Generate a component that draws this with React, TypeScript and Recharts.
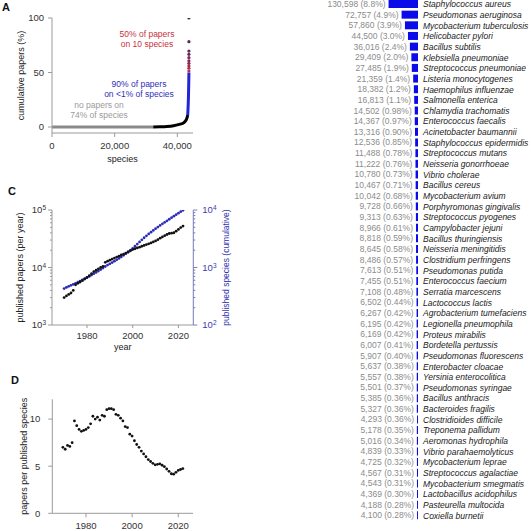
import React from 'react';
import { ComposedChart, LineChart, BarChart, Line, Bar, XAxis, YAxis, LabelList } from 'recharts';

// ---- A: cumulative share of papers, species sorted by paper count ----
const flatX = [0, 32300];
const flatY = [0, 0];
const riseX = [32300, 34500, 36600, 38800, 40900, 42000, 42450, 42900, 43200, 43320];
const riseY = [0, 0.2, 0.5, 1.2, 2.6, 3.8, 5, 7, 9.5, 11];
const steepX = [43320, 43460, 43570, 43640, 43680, 43690];
const steepY = [11, 20, 30, 40, 47, 50];
const top10X = [43691, 43692, 43693, 43694, 43695, 43696, 43697, 43698, 43699, 43700];
const top10Y = [51.4, 53.9, 56, 58.4, 60.8, 63.6, 66.7, 69.7, 78.3, 100];
const speciesTicks = [0, 20000, 40000];
const shareTicks = [0, 50, 100];

// ---- B: most studied species ----
const speciesNames = [
  'Staphylococcus aureus', 'Pseudomonas aeruginosa', 'Mycobacterium tuberculosis', 'Helicobacter pylori',
  'Bacillus subtilis', 'Klebsiella pneumoniae', 'Streptococcus pneumoniae', 'Listeria monocytogenes',
  'Haemophilus influenzae', 'Salmonella enterica', 'Chlamydia trachomatis', 'Enterococcus faecalis',
  'Acinetobacter baumannii', 'Staphylococcus epidermidis', 'Streptococcus mutans', 'Neisseria gonorrhoeae',
  'Vibrio cholerae', 'Bacillus cereus', 'Mycobacterium avium', 'Porphyromonas gingivalis',
  'Streptococcus pyogenes', 'Campylobacter jejuni', 'Bacillus thuringiensis', 'Neisseria meningitidis',
  'Clostridium perfringens', 'Pseudomonas putida', 'Enterococcus faecium', 'Serratia marcescens',
  'Lactococcus lactis', 'Agrobacterium tumefaciens', 'Legionella pneumophila', 'Proteus mirabilis',
  'Bordetella pertussis', 'Pseudomonas fluorescens', 'Enterobacter cloacae', 'Yersinia enterocolitica',
  'Pseudomonas syringae', 'Bacillus anthracis', 'Bacteroides fragilis', 'Clostridioides difficile',
  'Treponema pallidum', 'Aeromonas hydrophila', 'Vibrio parahaemolyticus', 'Mycobacterium leprae',
  'Streptococcus agalactiae', 'Mycobacterium smegmatis', 'Lactobacillus acidophilus', 'Pasteurella multocida',
  'Coxiella burnetii',
];
const paperCounts = [
  130598, 72757, 57860, 44500, 36016, 29409, 27485, 21359, 18382, 16813, 14502, 14367, 13316, 12536, 11488,
  11222, 10780, 10467, 10042, 9728, 9313, 8966, 8818, 8645, 8486, 7613, 7455, 7108, 6502, 6267, 6195, 6169,
  6007, 5907, 5637, 5557, 5501, 5385, 5327, 4293, 5178, 5016, 4839, 4725, 4567, 4543, 4369, 4188, 4100,
];
const paperShares = [
  '8.8%', '4.9%', '3.9%', '3.0%', '2.4%', '2.0%', '1.9%', '1.4%', '1.2%', '1.1%', '0.98%', '0.97%', '0.90%',
  '0.85%', '0.78%', '0.76%', '0.73%', '0.71%', '0.68%', '0.66%', '0.63%', '0.61%', '0.59%', '0.58%', '0.57%',
  '0.51%', '0.51%', '0.48%', '0.44%', '0.42%', '0.42%', '0.42%', '0.41%', '0.40%', '0.38%', '0.38%', '0.37%',
  '0.36%', '0.36%', '0.36%', '0.35%', '0.34%', '0.33%', '0.32%', '0.31%', '0.31%', '0.30%', '0.28%', '0.28%',
];

// ---- C / D: by year ----
const years = [
  1970, 1971, 1972, 1973, 1974, 1975, 1976, 1977, 1978, 1979, 1980, 1981, 1982, 1983, 1984, 1985, 1986, 1987,
  1988, 1989, 1990, 1991, 1992, 1993, 1994, 1995, 1996, 1997, 1998, 1999, 2000, 2001, 2002, 2003, 2004, 2005,
  2006, 2007, 2008, 2009, 2010, 2011, 2012, 2013, 2014, 2015, 2016, 2017, 2018, 2019, 2020, 2021, 2022,
];
const papersPerYear = [
  3000, 3200, 3400, 3600, 4000, 5000, 5300, 5600, 5900, 6300, 6700, 7200, 7800, 8500, 9000, 9500, 10000, 10500,
  12300, 12900, 13400, 14000, 14600, 15200, 15800, 16500, 17100, 17800, 18600, 19500, 20500, 21200, 21900, 22600,
  23400, 24200, 25000, 25800, 26800, 27800, 29000, 30500, 32300, 34000, 35800, 37500, 39000, 39600, 40200, 42800,
  46000, 49500, 52500,
];
const speciesCumulative = [
  430, 450, 470, 490, 510, 530, 555, 580, 610, 640, 670, 700, 740, 780, 820, 870, 920, 980, 1040, 1100, 1160,
  1220, 1290, 1360, 1440, 1530, 1630, 1740, 1860, 2000, 2150, 2340, 2550, 2780, 3030, 3290, 3560, 3840, 4120,
  4420, 4730, 5050, 5390, 5740, 6110, 6480, 6900, 7350, 7820, 8300, 8800, 9350, 9900,
];
const papersPerSpecies = [
  7.0, 6.8, 7.2, 7.1, 7.5, 9.8, 9.3, 8.9, 8.7, 8.8, 8.9, 9.1, 9.5, 10.3, 10.0, 10.2, 9.9, 10.4, 10.3, 11.0, 11.1,
  11.1, 11.0, 10.5, 10.4, 10.1, 9.8, 9.2, 9.1, 8.4, 8.2, 7.7, 7.3, 7.0, 6.6, 6.3, 6.0, 5.7, 5.5, 5.3, 5.15, 5.2,
  5.25, 5.1, 4.95, 4.7, 4.45, 4.2, 4.15, 4.35, 4.55, 4.65, 4.75,
];
const yearTicks = [1980, 2000, 2020];
const papersLogTicks = [
  1000, 2000, 3000, 4000, 5000, 6000, 7000, 8000, 9000, 10000, 20000, 30000, 40000, 50000, 60000, 70000, 80000,
  90000, 100000,
];
const speciesLogTicks = [100, 200, 300, 400, 500, 600, 700, 800, 900, 1000, 2000, 3000, 4000, 5000, 6000, 7000, 8000, 9000, 10000];
const ratioTicks = [0, 5, 10];

const FONT = '"Liberation Sans", Arial, Helvetica, sans-serif';
const AXIS = '#9a9a9a';
const TICK_TEXT = { fontSize: 9.5, fill: '#333' };
const BLUE = '#2b2bb8';
const topDotColors = ['#b8304a', '#ab2e4e', '#9e2c52', '#912a55', '#842858', '#77285a', '#6a285b', '#5e285a', '#532a56', '#4a2a4e'];

const pairs = (xs: number[], ys: number[]) => xs.map((x, i) => ({ x, y: ys[i] }));

const barRows = speciesNames.map((name, i) => ({
  name,
  count: paperCounts[i],
  label: `${paperCounts[i].toLocaleString('en-US')} (${paperShares[i]})`,
}));

const yearRows = years.map((year, i) => ({
  year,
  papers: papersPerYear[i],
  species: speciesCumulative[i],
  ratio: papersPerSpecies[i],
}));

const renderTopDot = (p: any) => (
  <circle key={`top-${p.index}`} cx={p.cx} cy={p.cy} r={1.6} fill={topDotColors[p.index]} />
);

const ValueLabel = (props: any) => {
  const vb = props.viewBox || {};
  const x = Number(props.x ?? vb.x);
  const w = Number(props.width ?? vb.width);
  const y = Number(props.y ?? vb.y);
  const h = Number(props.height ?? vb.height);
  const left = Math.min(x, x + w);
  return (
    <text x={left - 3} y={y + h / 2} dy="0.35em" textAnchor="end" fontSize={8.5} fill="#8c8c8c">
      {props.value}
    </text>
  );
};

const SpeciesTick = ({ x, y, payload }: any) => (
  <text x={x} y={y} dy="0.35em" fontSize={8.5} fontStyle="italic" fill="#1a1a1a">
    {payload.value}
  </text>
);

const decadeTick = (side: 'left' | 'right', color: string, lineColor: string) => (props: any) => {
  const { x, y, payload } = props;
  const exp = Math.log10(payload.value);
  const major = Math.abs(exp - Math.round(exp)) < 1e-6;
  const dir = side === 'left' ? -1 : 1;
  const len = major ? 4 : 2;
  return (
    <g>
      <line x1={x} x2={x + dir * len} y1={y} y2={y} stroke={lineColor} />
      {major ? (
        <text
          x={x + (side === 'left' ? -6 : 9)}
          y={y}
          dy="0.35em"
          textAnchor={side === 'left' ? 'end' : 'start'}
          fontSize={9.5}
          fill={color}
        >
          10<tspan dy="-0.5em" fontSize={6.5}>{Math.round(exp)}</tspan>
        </text>
      ) : null}
    </g>
  );
};

const panelLetter = (text: string, left: number, top: number) => (
  <div style={{ position: 'absolute', left, top, fontSize: 11, lineHeight: '11px', fontWeight: 'bold', color: '#111' }}>
    {text}
  </div>
);

const note = (lines: string[], cx: number, top: number, color: string) => (
  <div
    style={{
      position: 'absolute', left: cx - 60, top, width: 120, textAlign: 'center',
      fontSize: 8.5, lineHeight: '10px', color, whiteSpace: 'nowrap',
    }}
  >
    {lines.map((l) => (
      <div key={l}>{l}</div>
    ))}
  </div>
);

export default function App() {
  return (
    <div
      style={{
        position: 'absolute', left: 0, top: 0, width: 531, height: 531, overflow: 'hidden',
        background: '#fff', fontFamily: FONT,
      }}
    >
      {/* A */}
      <div style={{ position: 'absolute', left: 0, top: 0 }}>
        <ComposedChart width={215} height={170} margin={{ top: 18, right: 22, bottom: 0, left: 0 }}>
          <XAxis
            type="number" dataKey="x" domain={[0, 45000]} ticks={speciesTicks} interval={0} allowDataOverflow
            tickFormatter={(v: number) => v.toLocaleString('en-US')} height={37} tickSize={4} tickMargin={5}
            stroke={AXIS} tick={TICK_TEXT}
            label={{ value: 'species', position: 'insideBottom', offset: 8, fontSize: 9, fill: '#222' }}
          />
          <YAxis
            type="number" domain={[-5.5, 100]} ticks={shareTicks} interval={0} allowDataOverflow width={52}
            tickSize={4} tickMargin={4} stroke={AXIS} tick={TICK_TEXT}
            label={{
              value: 'cumulative papers (%)', angle: -90, position: 'insideLeft', offset: 21,
              style: { textAnchor: 'middle' }, fontSize: 9, fill: '#222',
            }}
          />
          <Line data={pairs(flatX, flatY)} dataKey="y" stroke="#8a8a8a" strokeWidth={3} dot={false} isAnimationActive={false} />
          <Line data={pairs(riseX, riseY)} dataKey="y" type="monotone" stroke="#000" strokeWidth={3} dot={false} isAnimationActive={false} />
          <Line data={pairs(steepX, steepY)} dataKey="y" type="monotone" stroke="#2323d8" strokeWidth={3} dot={false} isAnimationActive={false} />
          <Line data={pairs(top10X, top10Y)} dataKey="y" stroke="none" dot={renderTopDot} isAnimationActive={false} />
        </ComposedChart>
      </div>
      {note(['50% of papers', 'on 10 species'], 147, 29, '#c8323c')}
      {note(['90% of papers', 'on <1% of species'], 139, 79, '#3030b8')}
      {note(['no papers on', '74% of species'], 99, 100, '#9a9a9a')}
      {panelLetter('A', 2, 2)}

      {/* B */}
      <div style={{ position: 'absolute', left: 300, top: -1 }}>
        <BarChart layout="vertical" width={231} height={522} data={barRows} margin={{ top: 0, right: 0, bottom: 0, left: 88 }}>
          <XAxis type="number" hide reversed domain={[0, 133000]} allowDataOverflow />
          <YAxis
            type="category" dataKey="name" orientation="right" width={113} axisLine={false} tickLine={false}
            tickSize={0} tickMargin={5} interval={0} tick={SpeciesTick}
          />
          <Bar dataKey="count" fill="#0b0bea" barSize={8} isAnimationActive={false}>
            <LabelList dataKey="label" content={ValueLabel} />
          </Bar>
        </BarChart>
      </div>

      {/* C */}
      <div style={{ position: 'absolute', left: 0, top: 180 }}>
        <LineChart width={240} height={180} data={yearRows} margin={{ top: 30, right: 0, bottom: 0, left: 0 }}>
          <XAxis
            type="number" dataKey="year" domain={[1964.7, 2026.5]} ticks={yearTicks} interval={0} allowDataOverflow
            height={35} tickSize={3} tickMargin={4} stroke={AXIS} tick={TICK_TEXT}
            label={{ value: 'year', position: 'insideBottom', offset: 10, fontSize: 9, fill: '#222' }}
          />
          <YAxis
            yAxisId="papers" type="number" scale="log" domain={[1000, 100000]} allowDataOverflow
            ticks={papersLogTicks} interval={0} width={52} tickSize={0} tickMargin={0} tickLine={false}
            stroke={AXIS} tick={decadeTick('left', '#333', AXIS)}
            label={{
              value: 'published papers (per year)', angle: -90, position: 'insideLeft', offset: 20,
              style: { textAnchor: 'middle' }, fontSize: 9, fill: '#222',
            }}
          />
          <YAxis
            yAxisId="species" orientation="right" type="number" scale="log" domain={[100, 10000]} allowDataOverflow
            ticks={speciesLogTicks} interval={0} width={46.7} tickSize={0} tickMargin={0} tickLine={false}
            stroke="#7a7ab8" tick={decadeTick('right', '#3b3bb0', '#7a7ab8')}
            label={{
              value: 'published species (cumulative)', angle: -90, position: 'insideRight', offset: 14,
              style: { textAnchor: 'middle' }, fontSize: 8.5, fill: '#3030b0',
            }}
          />
          <Line yAxisId="species" dataKey="species" stroke="none" dot={{ r: 1.4, fill: BLUE, stroke: 'none' }} isAnimationActive={false} />
          <Line yAxisId="papers" dataKey="papers" stroke="none" dot={{ r: 1.4, fill: '#111', stroke: 'none' }} isAnimationActive={false} />
        </LineChart>
      </div>
      {panelLetter('C', 8, 186)}

      {/* D */}
      <div style={{ position: 'absolute', left: 0, top: 380 }}>
        <LineChart width={200} height={151} data={yearRows} margin={{ top: 19.3, right: 7, bottom: 0, left: 0 }}>
          <XAxis
            type="number" dataKey="year" domain={[1965.4, 2026.4]} ticks={yearTicks} interval={0} allowDataOverflow
            height={17.7} tickSize={4} tickMargin={5} stroke={AXIS} tick={TICK_TEXT}
          />
          <YAxis
            type="number" domain={[0, 12.1]} ticks={ratioTicks} interval={0} allowDataOverflow width={52.3}
            tickSize={4} tickMargin={8} stroke={AXIS} tick={TICK_TEXT}
            label={{
              value: 'papers per published species', angle: -90, position: 'insideLeft', offset: 24,
              style: { textAnchor: 'middle' }, fontSize: 9, fill: '#222',
            }}
          />
          <Line dataKey="ratio" stroke="none" dot={{ r: 1.4, fill: '#111', stroke: 'none' }} isAnimationActive={false} />
        </LineChart>
      </div>
      {panelLetter('D', 11, 375)}
    </div>
  );
}
